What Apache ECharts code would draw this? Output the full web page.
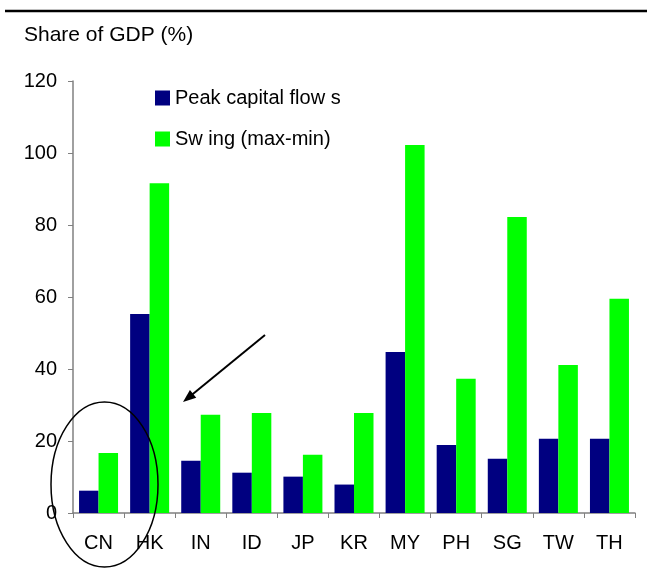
<!DOCTYPE html>
<html>
<head>
  <meta charset="utf-8">
  <title>Capital flows</title>
</head>
<body style="margin: 0; background: #fff">
  <div id="container" style="width: 647px; height: 573px;"></div>
  <script src="https://cdn.jsdelivr.net/npm/echarts@6/dist/echarts.min.js"></script>
  <script>
    var categories = ['CN', 'HK', 'IN', 'ID', 'JP', 'KR', 'MY', 'PH', 'SG', 'TW', 'TH'];
    var peakFlows = [6.2, 55.3, 14.5, 11.2, 10.1, 7.9, 44.7, 18.9, 15.1, 20.6, 20.6];
    var swing = [16.7, 91.6, 27.3, 27.8, 16.2, 27.8, 102.2, 37.3, 82.2, 41.1, 59.5];
    var seriesNames = ['Peak capital flow s', 'Sw ing (max-min)'];

    var chart = echarts.init(document.getElementById('container'), null, { renderer: 'canvas' });
    var font = 'Liberation Sans, Arial, sans-serif';

    // arrow pointing at the CN group
    var a0 = [265, 335], a1 = [183, 402];
    var dx = a1[0] - a0[0], dy = a1[1] - a0[1];
    var len = Math.sqrt(dx * dx + dy * dy);
    var ux = dx / len, uy = dy / len;
    var head = [
      a1,
      [a1[0] - ux * 13 - uy * 5, a1[1] - uy * 13 + ux * 5],
      [a1[0] - ux * 13 + uy * 5, a1[1] - uy * 13 - ux * 5]
    ];

    var option = {
      animation: false,
      textStyle: { fontFamily: font },
      grid: { left: 73, right: 12, top: 81, bottom: 60 },
      legend: {
        orient: 'vertical',
        left: 150,
        top: 83,
        itemWidth: 15,
        itemHeight: 15,
        itemGap: 21,
        icon: 'rect',
        textStyle: { fontSize: 20, color: '#000', fontFamily: font },
        data: seriesNames
      },
      xAxis: {
        type: 'category',
        data: categories,
        axisLine: { lineStyle: { color: '#808080', width: 1.5 } },
        axisTick: { show: true, length: 5, lineStyle: { color: '#808080' } },
        axisLabel: { fontSize: 20, color: '#000', margin: 20, fontFamily: font },
        splitLine: { show: false }
      },
      yAxis: {
        type: 'value',
        min: 0,
        max: 120,
        interval: 20,
        axisLine: { show: true, lineStyle: { color: '#808080', width: 1.5 } },
        axisTick: { show: true, length: 5, lineStyle: { color: '#808080' } },
        axisLabel: { fontSize: 20, color: '#000', margin: 16, fontFamily: font },
        splitLine: { show: false }
      },
      series: [
        {
          name: seriesNames[0],
          type: 'bar',
          data: peakFlows,
          barWidth: 19.5,
          barGap: '0%',
          itemStyle: { color: '#000080' }
        },
        {
          name: seriesNames[1],
          type: 'bar',
          data: swing,
          barWidth: 19.5,
          barGap: '0%',
          itemStyle: { color: '#00ff00' }
        }
      ],
      graphic: [
        {
          type: 'line',
          shape: { x1: 5, y1: 11, x2: 647, y2: 11 },
          style: { stroke: '#000', lineWidth: 2.5 }
        },
        {
          type: 'text',
          left: 24,
          top: 25,
          style: { text: 'Share of GDP (%)', fontSize: 21, fill: '#000', fontFamily: font }
        },
        {
          type: 'ellipse',
          shape: { cx: 104.5, cy: 484.5, rx: 53.5, ry: 82.5 },
          style: { fill: 'none', stroke: '#000', lineWidth: 1.5 },
          z: 100
        },
        {
          type: 'line',
          shape: { x1: a0[0], y1: a0[1], x2: a1[0] - ux * 8, y2: a1[1] - uy * 8 },
          style: { stroke: '#000', lineWidth: 2 },
          z: 100
        },
        {
          type: 'polygon',
          shape: { points: head },
          style: { fill: '#000' },
          z: 100
        }
      ]
    };

    chart.setOption(option);
  </script>
</body>
</html>
